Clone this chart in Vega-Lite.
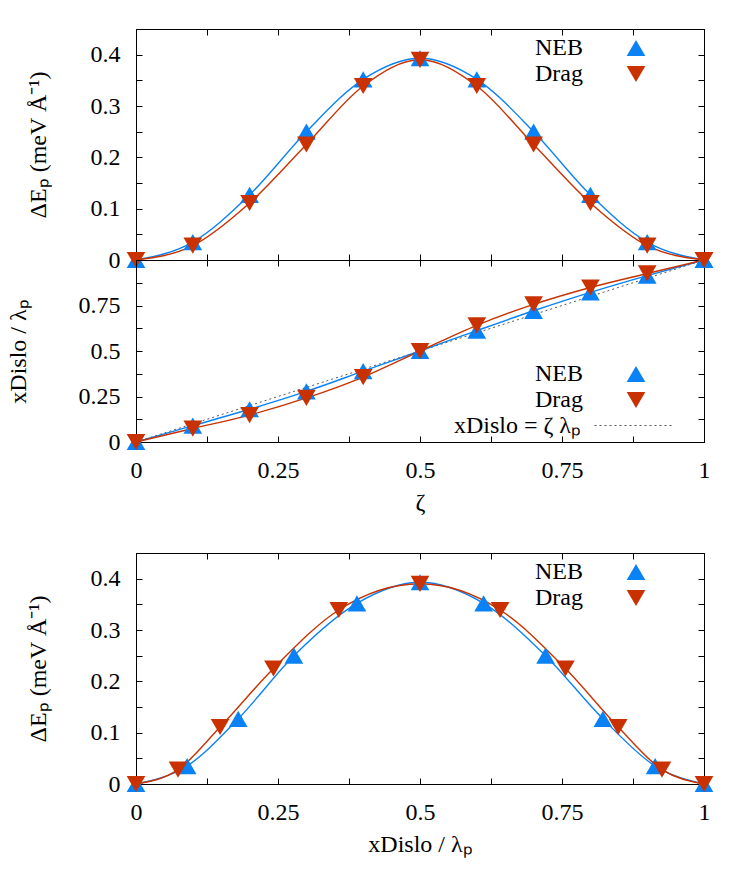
{
  "$schema": "https://vega.github.io/schema/vega-lite/v6.json",
  "padding": {"left": 5, "top": 28, "right": 10, "bottom": 10},
  "background": "white",
  "datasets": {
    "pts": [
      {"method": "NEB", "zeta": 0.0, "dE": 0.0, "xd": 0.0},
      {"method": "NEB", "zeta": 0.1, "dE": 0.035, "xd": 0.09},
      {"method": "NEB", "zeta": 0.2, "dE": 0.127, "xd": 0.18},
      {"method": "NEB", "zeta": 0.3, "dE": 0.25, "xd": 0.278},
      {"method": "NEB", "zeta": 0.4, "dE": 0.352, "xd": 0.389},
      {"method": "NEB", "zeta": 0.5, "dE": 0.393, "xd": 0.5},
      {"method": "NEB", "zeta": 0.6, "dE": 0.352, "xd": 0.612},
      {"method": "NEB", "zeta": 0.7, "dE": 0.25, "xd": 0.721},
      {"method": "NEB", "zeta": 0.8, "dE": 0.127, "xd": 0.822},
      {"method": "NEB", "zeta": 0.9, "dE": 0.035, "xd": 0.914},
      {"method": "NEB", "zeta": 1.0, "dE": 0.0, "xd": 1.0},
      {"method": "Drag", "zeta": 0.0, "dE": 0.0, "xd": 0.0},
      {"method": "Drag", "zeta": 0.1, "dE": 0.028, "xd": 0.074},
      {"method": "Drag", "zeta": 0.2, "dE": 0.111, "xd": 0.148},
      {"method": "Drag", "zeta": 0.3, "dE": 0.225, "xd": 0.242},
      {"method": "Drag", "zeta": 0.4, "dE": 0.339, "xd": 0.357},
      {"method": "Drag", "zeta": 0.5, "dE": 0.39, "xd": 0.5},
      {"method": "Drag", "zeta": 0.6, "dE": 0.339, "xd": 0.641},
      {"method": "Drag", "zeta": 0.7, "dE": 0.225, "xd": 0.756},
      {"method": "Drag", "zeta": 0.8, "dE": 0.111, "xd": 0.849},
      {"method": "Drag", "zeta": 0.9, "dE": 0.028, "xd": 0.926},
      {"method": "Drag", "zeta": 1.0, "dE": 0.0, "xd": 1.0}
    ],
    "ref": [
      {"label": "xDislo = ζ λₚ", "zeta": 0, "xd": 0},
      {"label": "xDislo = ζ λₚ", "zeta": 1, "xd": 1}
    ],
    "none": []
  },
  "config": {
    "font": "Liberation Serif",
    "view": {"stroke": "black", "strokeWidth": 1},
    "axis": {
      "grid": false,
      "domainColor": "black",
      "domainWidth": 1,
      "tickColor": "black",
      "tickWidth": 1,
      "tickSize": -6,
      "labelPadding": 22,
      "labelFont": "Liberation Serif",
      "labelFontSize": 24,
      "labelColor": "black",
      "labelFlush": false,
      "labelOverlap": false,
      "labelBound": false,
      "titleFont": "Liberation Serif",
      "titleFontSize": 24,
      "titleFontWeight": "normal",
      "titleColor": "black"
    },
    "legend": {
      "labelFont": "Liberation Serif",
      "labelFontSize": 24,
      "labelColor": "black"
    }
  },
  "resolve": {"legend": {"color": "independent", "shape": "independent", "strokeDash": "independent"}},
  "spacing": 0,
  "bounds": "flush",
  "vconcat": [
    {
      "width": 568,
      "height": 231,
      "data": {"name": "pts"},
      "resolve": {"axis": {"x": "independent", "y": "independent"}},
      "layer": [
        {
          "mark": {"type": "line", "interpolate": "monotone", "strokeWidth": 1.4},
          "encoding": {
            "x": {"field": "zeta", "type": "quantitative", "scale": {"domain": [0, 1], "nice": false, "zero": false},
              "axis": {"orient": "bottom", "values": [0, 0.125, 0.25, 0.375, 0.5, 0.625, 0.75, 0.875, 1], "labels": false, "title": null}},
            "y": {"field": "dE", "type": "quantitative", "scale": {"domain": [0, 0.45], "nice": false},
              "axis": {"orient": "left", "values": [0, 0.05, 0.1, 0.15, 0.2, 0.25, 0.3, 0.35, 0.4], "format": ".1~f",
                "labelExpr": "round(datum.value * 20) % 2 == 0 ? datum.label : ''", "labelFont": "Liberation Serif",
                "title": "ΔEₚ  (meV Å⁻¹)", "titleFont": "Liberation Serif", "titlePadding": 40}},
            "stroke": {"field": "method", "type": "nominal", "scale": {"domain": ["NEB", "Drag"], "range": ["#0a82f5", "#c93200"]}, "legend": null}
          }
        },
        {
          "mark": {"type": "point", "filled": true, "opacity": 1, "size": 350, "strokeWidth": 0},
          "encoding": {
            "x": {"field": "zeta", "type": "quantitative", "scale": {"domain": [0, 1], "nice": false, "zero": false},
              "axis": {"orient": "top", "values": [0, 0.125, 0.25, 0.375, 0.5, 0.625, 0.75, 0.875, 1], "labels": false, "title": null}},
            "y": {"field": "dE", "type": "quantitative", "scale": {"domain": [0, 0.45], "nice": false},
              "axis": {"orient": "right", "values": [0, 0.05, 0.1, 0.15, 0.2, 0.25, 0.3, 0.35, 0.4], "labels": false, "title": null}},
            "color": {"field": "method", "type": "nominal", "scale": {"domain": ["NEB", "Drag"], "range": ["#0a82f5", "#c93200"]},
              "legend": {"orient": "none", "legendX": 488, "legendY": 7, "title": null, "labelAlign": "right", "labelOffset": -65, "symbolSize": 350, "symbolStrokeWidth": 0, "padding": 0, "rowPadding": 2}},
            "shape": {"field": "method", "type": "nominal", "scale": {"domain": ["NEB", "Drag"], "range": ["triangle-up", "triangle-down"]},
              "legend": {"orient": "none", "legendX": 488, "legendY": 7, "title": null, "labelAlign": "right", "labelOffset": -65, "symbolSize": 350, "symbolStrokeWidth": 0, "padding": 0, "rowPadding": 2}}
          }
        }
      ]
    },
    {
      "width": 568,
      "height": 182,
      "resolve": {"axis": {"x": "independent", "y": "independent"}},
      "layer": [
        {
          "data": {"name": "ref"},
          "mark": {"type": "line", "strokeWidth": 1, "color": "#555555"},
          "encoding": {
            "x": {"field": "zeta", "type": "quantitative", "scale": {"domain": [0, 1], "nice": false, "zero": false}, "axis": null},
            "y": {"field": "xd", "type": "quantitative", "scale": {"domain": [0, 1], "nice": false}, "axis": null},
            "strokeDash": {"field": "label", "type": "nominal", "scale": {"range": [[2, 3]]},
              "legend": {"orient": "none", "legendX": 458, "legendY": 125, "title": null, "labelAlign": "right", "labelOffset": -94, "symbolType": "stroke", "symbolSize": 6400, "symbolStrokeColor": "#555555", "symbolStrokeWidth": 1, "symbolDash": [2, 3], "padding": 0}}
          }
        },
        {
          "data": {"name": "pts"},
          "mark": {"type": "line", "interpolate": "monotone", "strokeWidth": 1.4},
          "encoding": {
            "x": {"field": "zeta", "type": "quantitative", "scale": {"domain": [0, 1], "nice": false, "zero": false},
              "axis": {"orient": "bottom", "values": [0, 0.125, 0.25, 0.375, 0.5, 0.625, 0.75, 0.875, 1], "format": ".2~f",
                "labelExpr": "datum.value % 0.25 == 0 ? datum.label : ''", "labelFont": "Liberation Serif", "title": "ζ", "titlePadding": 8}},
            "y": {"field": "xd", "type": "quantitative", "scale": {"domain": [0, 1], "nice": false},
              "axis": {"orient": "left", "values": [0, 0.125, 0.25, 0.375, 0.5, 0.625, 0.75, 0.875], "format": ".2~f",
                "labelExpr": "datum.value % 0.25 == 0 ? datum.label : ''", "labelFont": "Liberation Serif", "title": "xDislo / λₚ", "titlePadding": 48}},
            "stroke": {"field": "method", "type": "nominal", "scale": {"domain": ["NEB", "Drag"], "range": ["#0a82f5", "#c93200"]}, "legend": null}
          }
        },
        {
          "data": {"name": "pts"},
          "mark": {"type": "point", "filled": true, "opacity": 1, "size": 350, "strokeWidth": 0},
          "encoding": {
            "x": {"field": "zeta", "type": "quantitative", "scale": {"domain": [0, 1], "nice": false, "zero": false},
              "axis": {"orient": "top", "values": [0, 0.125, 0.25, 0.375, 0.5, 0.625, 0.75, 0.875, 1], "labels": false, "title": null}},
            "y": {"field": "xd", "type": "quantitative", "scale": {"domain": [0, 1], "nice": false},
              "axis": {"orient": "right", "values": [0, 0.125, 0.25, 0.375, 0.5, 0.625, 0.75, 0.875], "labels": false, "title": null}},
            "color": {"field": "method", "type": "nominal", "scale": {"domain": ["NEB", "Drag"], "range": ["#0a82f5", "#c93200"]},
              "legend": {"orient": "none", "legendX": 488, "legendY": 102, "title": null, "labelAlign": "right", "labelOffset": -65, "symbolSize": 350, "symbolStrokeWidth": 0, "padding": 0, "rowPadding": 2}},
            "shape": {"field": "method", "type": "nominal", "scale": {"domain": ["NEB", "Drag"], "range": ["triangle-up", "triangle-down"]},
              "legend": {"orient": "none", "legendX": 488, "legendY": 102, "title": null, "labelAlign": "right", "labelOffset": -65, "symbolSize": 350, "symbolStrokeWidth": 0, "padding": 0, "rowPadding": 2}}
          }
        }
      ]
    },
    {
      "width": 568,
      "height": 111,
      "view": {"stroke": null},
      "data": {"name": "none"},
      "mark": "point"
    },
    {
      "width": 568,
      "height": 231,
      "data": {"name": "pts"},
      "resolve": {"axis": {"x": "independent", "y": "independent"}},
      "layer": [
        {
          "mark": {"type": "line", "interpolate": "monotone", "strokeWidth": 1.4},
          "encoding": {
            "x": {"field": "xd", "type": "quantitative", "scale": {"domain": [0, 1], "nice": false, "zero": false},
              "axis": {"orient": "bottom", "values": [0, 0.125, 0.25, 0.375, 0.5, 0.625, 0.75, 0.875, 1], "format": ".2~f",
                "labelExpr": "datum.value % 0.25 == 0 ? datum.label : ''", "labelFont": "Liberation Serif", "title": "xDislo / λₚ", "titlePadding": 8}},
            "y": {"field": "dE", "type": "quantitative", "scale": {"domain": [0, 0.45], "nice": false},
              "axis": {"orient": "left", "values": [0, 0.05, 0.1, 0.15, 0.2, 0.25, 0.3, 0.35, 0.4], "format": ".1~f",
                "labelExpr": "round(datum.value * 20) % 2 == 0 ? datum.label : ''", "labelFont": "Liberation Serif",
                "title": "ΔEₚ  (meV Å⁻¹)", "titleFont": "Liberation Serif", "titlePadding": 40}},
            "stroke": {"field": "method", "type": "nominal", "scale": {"domain": ["NEB", "Drag"], "range": ["#0a82f5", "#c93200"]}, "legend": null}
          }
        },
        {
          "mark": {"type": "point", "filled": true, "opacity": 1, "size": 350, "strokeWidth": 0},
          "encoding": {
            "x": {"field": "xd", "type": "quantitative", "scale": {"domain": [0, 1], "nice": false, "zero": false},
              "axis": {"orient": "top", "values": [0, 0.125, 0.25, 0.375, 0.5, 0.625, 0.75, 0.875, 1], "labels": false, "title": null}},
            "y": {"field": "dE", "type": "quantitative", "scale": {"domain": [0, 0.45], "nice": false},
              "axis": {"orient": "right", "values": [0, 0.05, 0.1, 0.15, 0.2, 0.25, 0.3, 0.35, 0.4], "labels": false, "title": null}},
            "color": {"field": "method", "type": "nominal", "scale": {"domain": ["NEB", "Drag"], "range": ["#0a82f5", "#c93200"]},
              "legend": {"orient": "none", "legendX": 488, "legendY": 7, "title": null, "labelAlign": "right", "labelOffset": -65, "symbolSize": 350, "symbolStrokeWidth": 0, "padding": 0, "rowPadding": 2}},
            "shape": {"field": "method", "type": "nominal", "scale": {"domain": ["NEB", "Drag"], "range": ["triangle-up", "triangle-down"]},
              "legend": {"orient": "none", "legendX": 488, "legendY": 7, "title": null, "labelAlign": "right", "labelOffset": -65, "symbolSize": 350, "symbolStrokeWidth": 0, "padding": 0, "rowPadding": 2}}
          }
        }
      ]
    }
  ]
}
